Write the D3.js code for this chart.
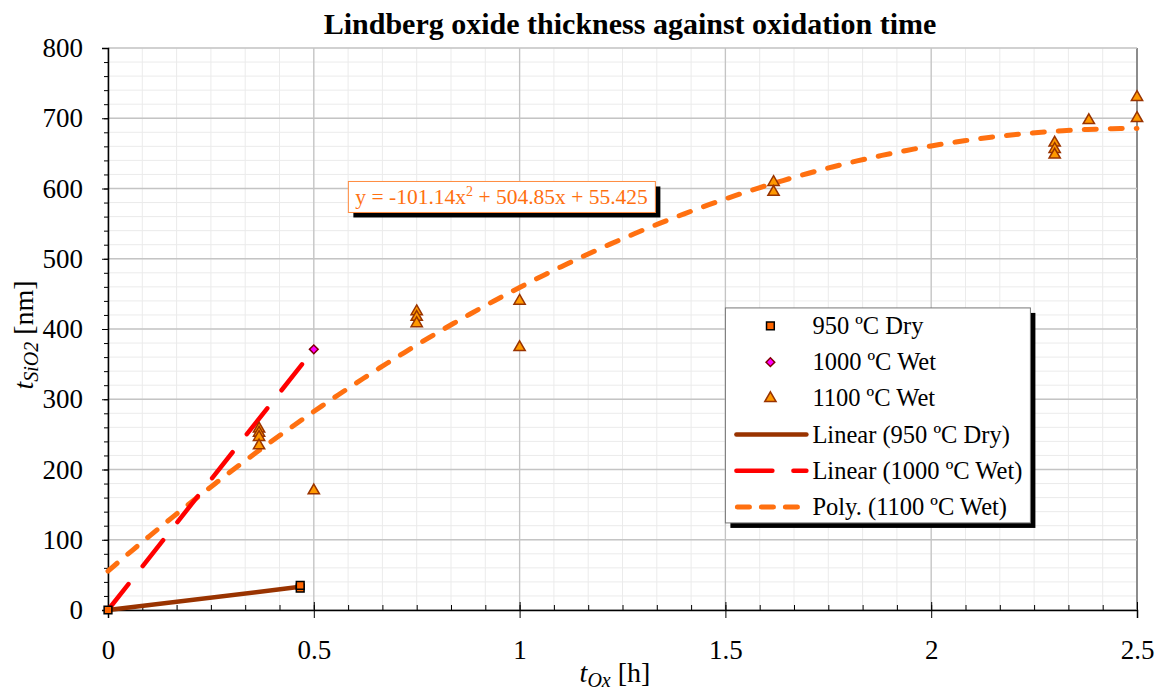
<!DOCTYPE html>
<html>
<head>
<meta charset="utf-8">
<script src="https://cdn.jsdelivr.net/npm/d3@7"></script>
<style>
  body { margin: 0; background: #fff; }
  text { font-family: "Liberation Serif", "Times New Roman", serif; }
</style>
</head>
<body>
<div id="chart"></div>
<script>
// Data
var dry950 = [[0, 0], [0.467, 31], [0.467, 35]];
var wet1000 = [[0, 0], [0.5, 371]];
var wet1100 = [
  [0.367, 258], [0.367, 252], [0.367, 246], [0.367, 234],
  [0.5, 170],
  [0.75, 425], [0.75, 417], [0.75, 408],
  [1.0, 440], [1.0, 374],
  [1.617, 609], [1.617, 595],
  [2.3, 665], [2.3, 656], [2.3, 648],
  [2.383, 697],
  [2.5, 730], [2.5, 700]
];
// trendlines
var lin950 = [[0, 0], [0.467, 33]];
var lin1000 = [[0, 0], [0.5, 371]];
var polyCoef = [55.425, 504.85, -101.14];
var xTicks = [0, 0.5, 1, 1.5, 2, 2.5];
var yTicks = [0, 100, 200, 300, 400, 500, 600, 700, 800];
var legendLabels = ["950 ºC Dry", "1000 ºC Wet", "1100 ºC Wet",
  "Linear (950 ºC Dry)", "Linear (1000 ºC Wet)", "Poly. (1100 ºC Wet)"];

var margin = {top: 48, right: 26, bottom: 85, left: 108},
    width = 1163 - margin.left - margin.right,
    height = 695 - margin.top - margin.bottom;

var svgRoot = d3.select("#chart").append("svg")
  .attr("width", 1163).attr("height", 695);
var svg = svgRoot.append("g")
  .attr("transform", "translate(" + margin.left + "," + margin.top + ")");

var x = d3.scaleLinear().domain([0, 2.5]).range([0, width]);
var y = d3.scaleLinear().domain([0, 800]).range([height, 0]);

// minor grid
var xMinor = d3.range(0, 2.5 + 1e-9, 0.5 / 6);
var yMinor = d3.range(0, 801, 20);
svg.append("g").selectAll("line").data(xMinor).enter().append("line")
  .attr("x1", d => x(d)).attr("x2", d => x(d)).attr("y1", 0).attr("y2", height)
  .attr("stroke", "#ebebeb").attr("stroke-width", 1);
svg.append("g").selectAll("line").data(yMinor).enter().append("line")
  .attr("y1", d => y(d)).attr("y2", d => y(d)).attr("x1", 0).attr("x2", width)
  .attr("stroke", "#ebebeb").attr("stroke-width", 1);
// major grid
svg.append("g").selectAll("line").data(xTicks).enter().append("line")
  .attr("x1", d => x(d)).attr("x2", d => x(d)).attr("y1", 0).attr("y2", height)
  .attr("stroke", d => d === 2.5 ? "#8c8c8c" : "#c4c4c4").attr("stroke-width", d => d === 2.5 ? 2 : 1.3);
svg.append("g").selectAll("line").data(yTicks).enter().append("line")
  .attr("y1", d => y(d)).attr("y2", d => y(d)).attr("x1", 0).attr("x2", width)
  .attr("stroke", "#c4c4c4").attr("stroke-width", 1.3);

// axes
var yAxis = svg.append("g")
  .call(d3.axisLeft(y).tickValues(yTicks).tickSize(6).tickPadding(19).tickFormat(d3.format("d")));
yAxis.select(".domain").attr("stroke-width", 1.5);
yAxis.selectAll("text").style("font-size", "27px").attr("fill", "#000");
svg.append("g").call(d3.axisLeft(y).tickValues(yMinor).tickSize(4).tickFormat(""))
  .select(".domain").remove();

var xAxis = svg.append("g").attr("transform", "translate(0," + height + ")")
  .call(d3.axisBottom(x).tickValues(xTicks).tickSize(8).tickPadding(22).tickFormat(d3.format("")));
xAxis.select(".domain").attr("stroke-width", 1.5);
xAxis.selectAll("text").style("font-size", "27px").attr("fill", "#000");
xAxis.selectAll(".tick line").attr("y1", -8).attr("stroke", "#000");
svg.append("g").attr("transform", "translate(0," + height + ")")
  .call(d3.axisTop(x).tickValues(xMinor).tickSize(5).tickFormat(""))
  .select(".domain").remove();

// trendlines
var line = d3.line().x(d => x(d[0])).y(d => y(d[1]));
var polyPts = d3.range(0, 2.5001, 0.02).map(function(t) {
  return [t, polyCoef[0] + polyCoef[1] * t + polyCoef[2] * t * t];
});
svg.append("path").datum(polyPts).attr("d", line)
  .attr("fill", "none").attr("stroke", "#ff7010").attr("stroke-width", 5)
  .attr("stroke-linecap", "round").attr("stroke-dasharray", "12,14");
svg.append("path").datum(lin1000).attr("d", line)
  .attr("fill", "none").attr("stroke", "#ff0000").attr("stroke-width", 4.5)
  .attr("stroke-linecap", "round").attr("stroke-dasharray", "33,23");
svg.append("path").datum(lin950).attr("d", line)
  .attr("fill", "none").attr("stroke", "#993300").attr("stroke-width", 4.5);

// markers
var tri = d3.symbol().type(d3.symbolTriangle).size(55);
svg.selectAll(".tri").data(wet1100).enter().append("path")
  .attr("class", "tri").attr("d", tri)
  .attr("transform", d => "translate(" + x(d[0]) + "," + y(d[1]) + ")")
  .attr("fill", "#ff9900").attr("stroke", "#993300").attr("stroke-width", 1.5);
var sq = d3.symbol().type(d3.symbolSquare).size(60);
svg.selectAll(".sq").data(dry950).enter().append("path")
  .attr("class", "sq").attr("d", sq)
  .attr("transform", d => "translate(" + x(d[0]) + "," + y(d[1]) + ")")
  .attr("fill", "#ff6600").attr("stroke", "#000").attr("stroke-width", 1.5);
var dia = d3.symbol().type(d3.symbolSquare).size(38);
svg.selectAll(".dia").data(wet1000.slice(1)).enter().append("path")
  .attr("class", "dia").attr("d", dia)
  .attr("transform", d => "translate(" + x(d[0]) + "," + y(d[1]) + ") rotate(45)")
  .attr("fill", "#ff00ff").attr("stroke", "#800000").attr("stroke-width", 1.5);

// equation label
var eq = svg.append("g").attr("transform", "translate(" + (x(0.584) ) + "," + y(610) + ")");
eq.append("rect").attr("x", 5).attr("y", 5).attr("width", 307).attr("height", 31).attr("fill", "#000");
eq.append("rect").attr("width", 307).attr("height", 31).attr("fill", "#fff")
  .attr("stroke", "#ff8c40").attr("stroke-width", 1);
var eqText = eq.append("text").attr("x", 7).attr("y", 23)
  .attr("fill", "#ff7010").style("font-size", "21.5px");
eqText.append("tspan").text("y = -101.14x");
eqText.append("tspan").attr("dy", -8).style("font-size", "14px").text("2");
eqText.append("tspan").attr("dy", 8).text(" + 504.85x + 55.425");

// legend
var lg = svg.append("g").attr("transform", "translate(" + (x(1.5)) + "," + y(430) + ")");
var lgW = 305, lgH = 215;
lg.append("rect").attr("x", 5).attr("y", 5).attr("width", lgW).attr("height", lgH).attr("fill", "#000");
lg.append("rect").attr("width", lgW).attr("height", lgH).attr("fill", "#fff")
  .attr("stroke", "#777").attr("stroke-width", 1);
var rows = lg.selectAll(".row").data(legendLabels).enter().append("g")
  .attr("transform", (d, i) => "translate(0," + (18 + i * 36.2) + ")");
rows.append("text").attr("x", 87).attr("y", 8).style("font-size", "24.5px").text(d => d);
rows.filter((d, i) => i === 0).append("path").attr("d", sq)
  .attr("transform", "translate(45,0)").attr("fill", "#ff6600").attr("stroke", "#000").attr("stroke-width", 1.5);
rows.filter((d, i) => i === 1).append("path").attr("d", dia)
  .attr("transform", "translate(45,0) rotate(45)").attr("fill", "#ff00ff").attr("stroke", "#800000").attr("stroke-width", 1.5);
rows.filter((d, i) => i === 2).append("path").attr("d", tri)
  .attr("transform", "translate(45,0)").attr("fill", "#ff9900").attr("stroke", "#993300").attr("stroke-width", 1.5);
rows.filter((d, i) => i === 3).append("line").attr("x1", 11).attr("x2", 81)
  .attr("stroke", "#993300").attr("stroke-width", 4.5).attr("stroke-linecap", "round");
rows.filter((d, i) => i === 4).append("line").attr("x1", 11).attr("x2", 81)
  .attr("stroke", "#ff0000").attr("stroke-width", 4.5).attr("stroke-linecap", "round")
  .attr("stroke-dasharray", "36,21");
rows.filter((d, i) => i === 5).append("line").attr("x1", 12).attr("x2", 81)
  .attr("stroke", "#ff7010").attr("stroke-width", 5).attr("stroke-linecap", "round")
  .attr("stroke-dasharray", "12,12");

// title and axis labels
svgRoot.append("text").attr("x", 630).attr("y", 34).attr("text-anchor", "middle")
  .style("font-size", "30px").style("font-weight", "bold").text("Lindberg oxide thickness against oxidation time");

var yl = svgRoot.append("text").attr("transform", "translate(33,335) rotate(-90)")
  .attr("text-anchor", "middle").style("font-size", "28px");
yl.append("tspan").style("font-style", "italic").text("t");
yl.append("tspan").style("font-style", "italic").style("font-size", "20px").attr("dy", 5).text("SiO2");
yl.append("tspan").attr("dy", -5).text(" [nm]");

var xl = svgRoot.append("text").attr("x", 615).attr("y", 682)
  .attr("text-anchor", "middle").style("font-size", "28px");
xl.append("tspan").style("font-style", "italic").text("t");
xl.append("tspan").style("font-style", "italic").style("font-size", "20px").attr("dy", 5).text("Ox");
xl.append("tspan").attr("dy", -5).text(" [h]");
</script>
</body>
</html>
